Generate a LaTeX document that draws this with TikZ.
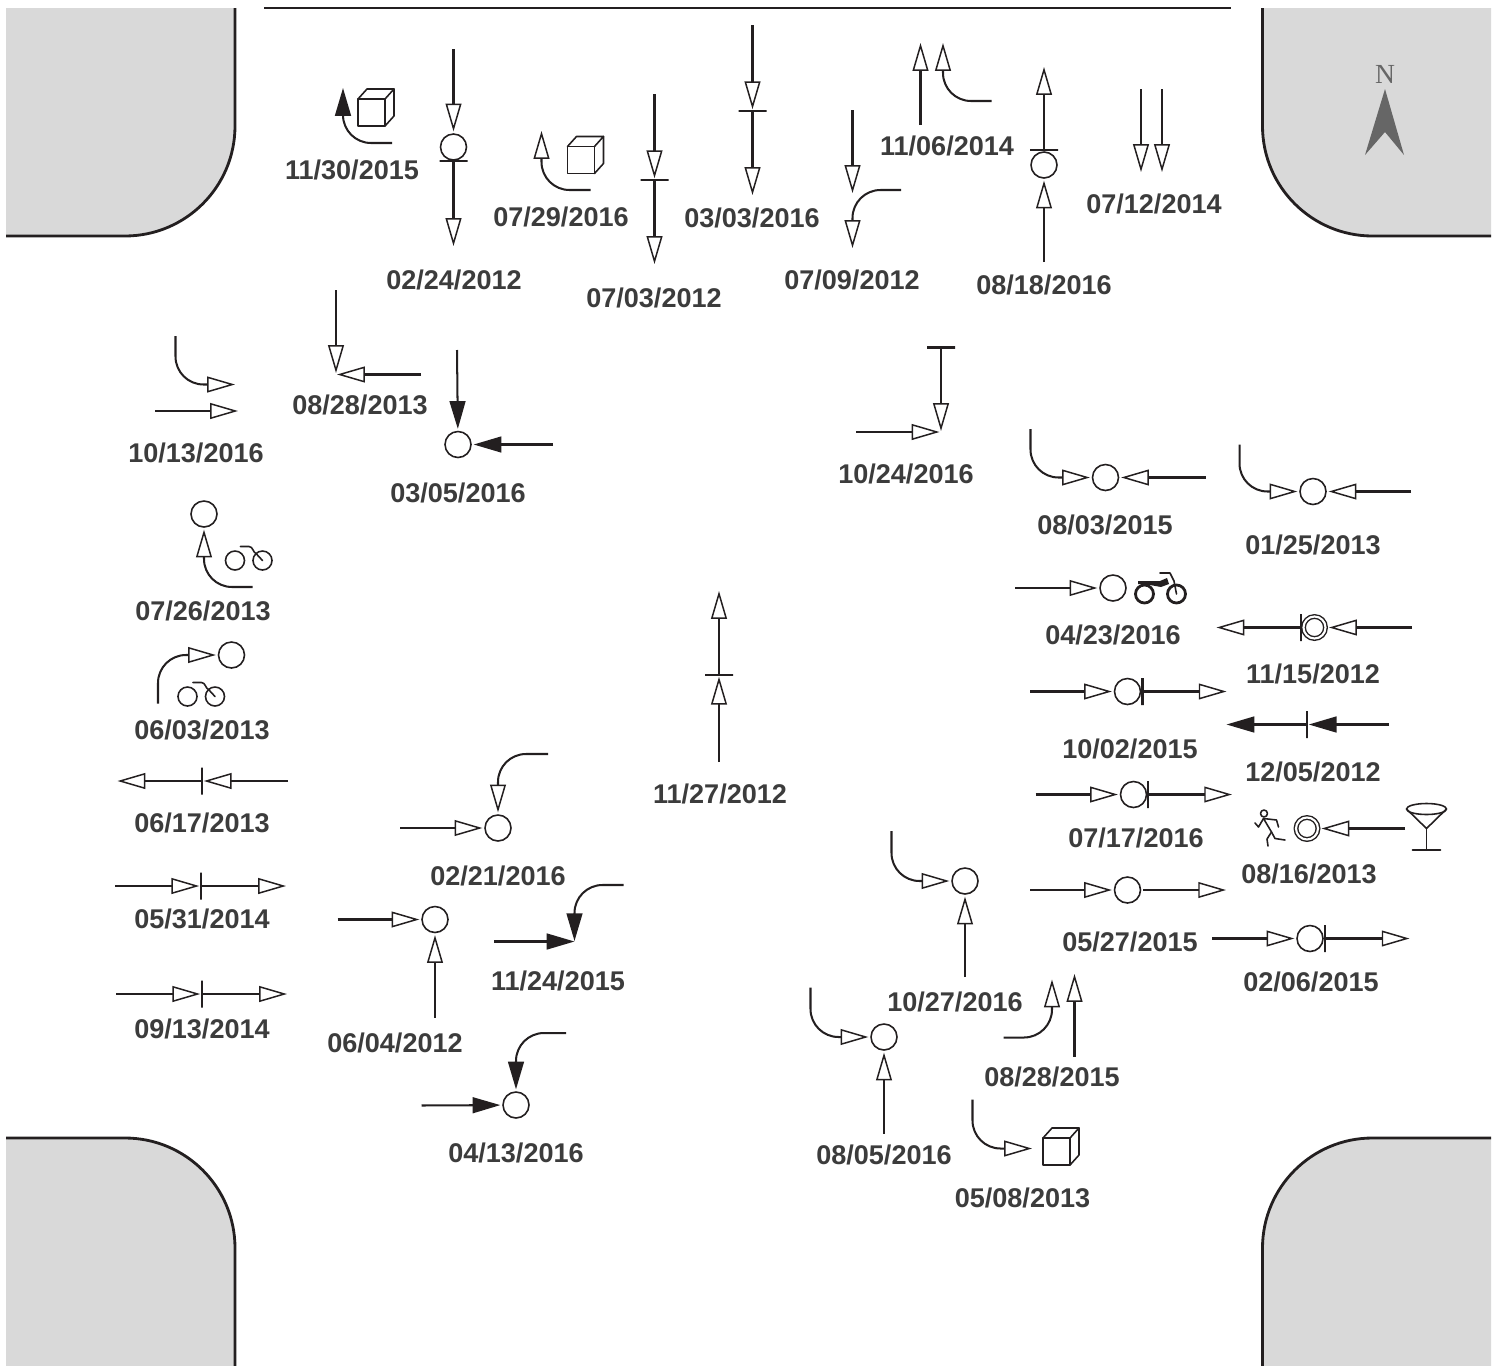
\documentclass[tikz,border=0pt]{standalone}
\usepackage{fontspec}
\setmainfont{Liberation Sans}
\newfontfamily\northfont{Liberation Serif}
\usetikzlibrary{arrows.meta}
\definecolor{blockgray}{HTML}{D9D9D9}
\definecolor{inkblack}{HTML}{231F20}
\definecolor{datumgray}{HTML}{3C3C3C}
\definecolor{northgray}{HTML}{666666}
\tikzset{
  leg/.style={line width=1.15pt,draw=inkblack},
  hollow/.style={leg,-{Triangle[open,length=15.8pt,width=9pt,line width=.85pt]}},
  solid/.style={leg,-{Triangle[length=15.8pt,width=9pt]},inkblack},
  turn/.style={rounded corners=.56cm},
  spot/.style={circle,draw=inkblack,line width=.9pt,minimum size=.52cm,inner sep=0pt,outer sep=1.5pt},
  ring/.style={spot,double=white,double distance=1.2pt,line width=.8pt,minimum size=.44cm,outer sep=2pt},
  hbar/.style={draw=inkblack,line width=1.15pt,minimum width=.56cm,minimum height=0pt,inner sep=0pt,outer sep=1pt},
  vbar/.style={draw=inkblack,line width=1.15pt,minimum height=.54cm,minimum width=0pt,inner sep=0pt,outer sep=1pt},
  datum/.style={inner sep=0pt,text=datumgray,font=\fontsize{15.4}{18}\selectfont\bfseries},
  glyph/.style={line width=.9pt,draw=inkblack,line cap=round,line join=round},
  block/.style={fill=blockgray},
  blockedge/.style={line width=1.6pt,draw=inkblack},
  crate/.pic={
    \draw[glyph] (-13.5,-13.5) rectangle (13.5,13.5);
    \draw[glyph] (-13.5,-13.5) -- (-4.5,-23.5) -- (22.5,-23.5) -- (13.5,-13.5);
    \draw[glyph] (22.5,-23.5) -- (22.5,3.5) -- (13.5,13.5);
  },
  bike/.pic={
    \draw[glyph] (0,0) circle [radius=9.5];
    \draw[glyph] (27.5,0) circle [radius=9.5];
    \draw[glyph] (5.5,-14) -- (14,-14) .. controls (18,-14) and (18,-8) .. (21,-7) -- (27.5,0);
  }
}
\begin{document}
\begin{tikzpicture}[x=0.02cm,y=-0.02cm]
  \useasboundingbox (0,0) rectangle (1502,1366);
  \fill[block] (6,8) -- (235,8) -- (235,126) arc [start angle=0,end angle=90,radius=110] -- (6,236) -- cycle;
  \draw[blockedge] (235,8) -- (235,126) arc [start angle=0,end angle=90,radius=110] -- (6,236);
  \fill[block] (1491,8) -- (1262.5,8) -- (1262.5,126) arc [start angle=180,end angle=90,radius=110] -- (1491,236) -- cycle;
  \draw[blockedge] (1262.5,8) -- (1262.5,126) arc [start angle=180,end angle=90,radius=110] -- (1491,236);
  \fill[block] (6,1366) -- (235,1366) -- (235,1248) arc [start angle=0,end angle=-90,radius=110] -- (6,1138) -- cycle;
  \draw[blockedge] (235,1366) -- (235,1248) arc [start angle=0,end angle=-90,radius=110] -- (6,1138);
  \fill[block] (1491,1366) -- (1262.5,1366) -- (1262.5,1248) arc [start angle=180,end angle=270,radius=110] -- (1491,1138) -- cycle;
  \draw[blockedge] (1262.5,1366) -- (1262.5,1248) arc [start angle=180,end angle=270,radius=110] -- (1491,1138);
  \draw[line width=.6pt,inkblack] (264,8) -- (1231,8);

  \node[inner sep=0pt,text=northgray,font=\fontsize{15.7}{18}\northfont] (north) at (1385,74) {N};
  \fill[northgray] (1385,89) -- (1404,155) -- (1385,132) -- (1365,155) -- cycle;

  % 11/30/2015
  \coordinate (s1) at (392,143); \coordinate (e1) at (343,88);
  \draw[solid,turn] (s1) -| (e1);
  \pic at (371.5,112.5) {crate};
  \node[datum] (d1) at (352,170) {11/30/2015};

  % 02/24/2012
  \node[spot] (c2) at (453.5,147) {};
  \node[hbar] (h2) at (453.5,161) {};
  \coordinate (s2) at (453.5,49); \coordinate (e2) at (453.5,246);
  \draw[hollow] (s2) -- (c2);
  \draw[hollow] (h2.center) -- (e2);
  \node[datum] (d2) at (454,280) {02/24/2012};

  % 07/29/2016
  \coordinate (s3) at (590.5,190); \coordinate (e3) at (541.5,131);
  \draw[hollow,turn] (s3) -| (e3);
  \pic at (581,160) {crate};
  \node[datum] (d3) at (561,217) {07/29/2016};

  % 07/03/2012
  \node[hbar] (h4) at (654.5,180) {};
  \coordinate (s4) at (654.5,94); \coordinate (e4) at (654.5,264);
  \draw[hollow] (s4) -- (h4);
  \draw[hollow] (h4.center) -- (e4);
  \node[datum] (d4) at (654,298) {07/03/2012};

  % 03/03/2016
  \node[hbar] (h5) at (752.5,111) {};
  \coordinate (s5) at (752.5,25); \coordinate (e5) at (752.5,195);
  \draw[hollow] (s5) -- (h5);
  \draw[hollow] (h5.center) -- (e5);
  \node[datum] (d5) at (752,218) {03/03/2016};

  % 07/09/2012
  \coordinate (s6) at (852.5,110); \coordinate (e6) at (852.5,193);
  \coordinate (s7) at (901,190); \coordinate (e7) at (852.5,248);
  \draw[hollow] (s6) -- (e6);
  \draw[hollow,turn] (s7) -| (e7);
  \node[datum] (d6) at (852,280) {07/09/2012};

  % 11/06/2014
  \coordinate (s8) at (920.5,125); \coordinate (e8) at (920.5,43);
  \coordinate (s9) at (991.5,101); \coordinate (e9) at (943,43);
  \draw[hollow] (s8) -- (e8);
  \draw[hollow,turn] (s9) -| (e9);
  \node[datum] (d8) at (947,146) {11/06/2014};

  % 08/18/2016
  \node[spot] (c10) at (1044,165) {};
  \node[hbar] (h10) at (1044,150) {};
  \coordinate (s10) at (1044,262); \coordinate (e10) at (1044,67);
  \draw[hollow] (s10) -- (c10);
  \draw[hollow] (h10.center) -- (e10);
  \node[datum] (d10) at (1044,285) {08/18/2016};

  % 07/12/2014
  \coordinate (s11) at (1141,89); \coordinate (e11) at (1141,172);
  \coordinate (s12) at (1162,89); \coordinate (e12) at (1162,172);
  \draw[hollow] (s11) -- (e11);
  \draw[hollow] (s12) -- (e12);
  \node[datum] (d11) at (1154,204) {07/12/2014};

  % 08/28/2013
  \coordinate (s13) at (336,290); \coordinate (e13) at (336,373);
  \coordinate (s14) at (421,374.5); \coordinate (e14) at (337,374.5);
  \draw[hollow] (s13) -- (e13);
  \draw[hollow] (s14) -- (e14);
  \node[datum] (d13) at (360,405) {08/28/2013};

  % 10/13/2016
  \coordinate (s15) at (175.5,336); \coordinate (e15) at (235,384.5);
  \coordinate (s16) at (155,411); \coordinate (e16) at (238,411);
  \draw[hollow,turn] (s15) |- (e15);
  \draw[hollow] (s16) -- (e16);
  \node[datum] (d15) at (196,453) {10/13/2016};

  % 03/05/2016
  \node[spot] (c17) at (458,444.5) {};
  \coordinate (s17) at (457,350); \coordinate (s18) at (553,444.5);
  \draw[solid] (s17) -- (c17);
  \draw[solid] (s18) -- (c17);
  \node[datum] (d17) at (458,493) {03/05/2016};

  % 07/26/2013
  \node[spot] (c19) at (204,514) {};
  \coordinate (s19) at (252.5,587);
  \draw[hollow,turn] (s19) -| (c19);
  \pic at (235,560.5) {bike};
  \node[datum] (d19) at (203,611) {07/26/2013};

  % 06/03/2013
  \node[spot] (c20) at (231.5,655) {};
  \coordinate (s20) at (158,703.5);
  \draw[hollow,turn] (s20) |- (c20);
  \pic at (187.5,696.5) {bike};
  \node[datum] (d20) at (202,730) {06/03/2013};

  % 06/17/2013
  \node[vbar] (v21) at (202,781) {};
  \coordinate (s21) at (288,781); \coordinate (e21) at (117.5,781);
  \draw[hollow] (s21) -- (v21);
  \draw[hollow] (v21.center) -- (e21);
  \node[datum] (d21) at (202,823) {06/17/2013};

  % 05/31/2014
  \node[vbar] (v22) at (201,886) {};
  \coordinate (s22) at (115,886); \coordinate (e22) at (286,886);
  \draw[hollow] (s22) -- (v22);
  \draw[hollow] (v22.center) -- (e22);
  \node[datum] (d22) at (202,919) {05/31/2014};

  % 09/13/2014
  \node[vbar] (v23) at (202,994) {};
  \coordinate (s23) at (116,994); \coordinate (e23) at (287,994);
  \draw[hollow] (s23) -- (v23);
  \draw[hollow] (v23.center) -- (e23);
  \node[datum] (d23) at (202,1029) {09/13/2014};

  % 02/21/2016
  \node[spot] (c24) at (498,828) {};
  \coordinate (s24) at (400,828); \coordinate (s25) at (548,754);
  \draw[hollow] (s24) -- (c24);
  \draw[hollow,turn] (s25) -| (c24);
  \node[datum] (d24) at (498,876) {02/21/2016};

  % 06/04/2012
  \node[spot] (c26) at (435,919.5) {};
  \coordinate (s26) at (337.5,919.5); \coordinate (s27) at (435,1017.5);
  \draw[hollow] (s26) -- (c26);
  \draw[hollow] (s27) -- (c26);
  \node[datum] (d26) at (395,1043) {06/04/2012};

  % 11/24/2015
  \coordinate (s28) at (494,941.5); \coordinate (e28) at (574.5,941.5);
  \coordinate (s29) at (623.5,885); \coordinate (e29) at (574.5,941);
  \draw[solid] (s28) -- (e28);
  \draw[solid,turn] (s29) -| (e29);
  \node[datum] (d28) at (558,981) {11/24/2015};

  % 04/13/2016
  \node[spot] (c30) at (516,1105) {};
  \coordinate (s30) at (421.5,1105.5); \coordinate (s31) at (566,1033);
  \draw[solid] (s30) -- (c30);
  \draw[solid,turn] (s31) -| (c30);
  \node[datum] (d30) at (516,1153) {04/13/2016};

  % 11/27/2012
  \node[hbar] (h32) at (719,675) {};
  \coordinate (s32) at (719,762); \coordinate (e32) at (719,591);
  \draw[hollow] (s32) -- (h32);
  \draw[hollow] (h32.center) -- (e32);
  \node[datum] (d32) at (720,794) {11/27/2012};

  % 10/24/2016
  \node[hbar] (h33) at (941,347.5) {};
  \coordinate (e33) at (941,431); \coordinate (s34) at (856,432); \coordinate (e34) at (939.5,432);
  \draw[hollow] (h33.center) -- (e33);
  \draw[hollow] (s34) -- (e34);
  \node[datum] (d33) at (906,474) {10/24/2016};

  % 08/03/2015
  \node[spot] (c35) at (1105.5,477.5) {};
  \coordinate (s35) at (1030.5,429); \coordinate (s36) at (1205.5,477.5);
  \draw[hollow,turn] (s35) |- (c35);
  \draw[hollow] (s36) -- (c35);
  \node[datum] (d35) at (1105,525) {08/03/2015};

  % 01/25/2013
  \node[spot] (c37) at (1313,491.5) {};
  \coordinate (s37) at (1239.5,444.5); \coordinate (s38) at (1411,491.5);
  \draw[hollow,turn] (s37) |- (c37);
  \draw[hollow] (s38) -- (c37);
  \node[datum] (d37) at (1313,545) {01/25/2013};

  % 04/23/2016
  \node[spot] (c39) at (1113,588) {};
  \coordinate (s39) at (1015,588);
  \draw[hollow] (s39) -- (c39);
  \draw[glyph,line width=1.6pt] (1144.5,594) circle [radius=9];
  \draw[glyph,line width=1.6pt] (1176.5,594) circle [radius=9];
  \fill[inkblack] (1138,581) -- (1160,581) -- (1167,578) -- (1169,584) -- (1161,587) -- (1150,585) -- (1138,584) -- cycle;
  \draw[glyph] (1160,573) -- (1170,573) -- (1174,581) -- (1176.5,594);
  \node[datum] (d39) at (1113,635) {04/23/2016};

  % 11/15/2012
  \node[ring] (c40) at (1314.5,627.5) {};
  \node[vbar] (v40) at (1301,627.5) {};
  \coordinate (s40) at (1412,627.5); \coordinate (e40) at (1216.5,627.5);
  \draw[hollow] (s40) -- (c40);
  \draw[hollow] (v40.center) -- (e40);
  \node[datum] (d40) at (1313,674) {11/15/2012};

  % 10/02/2015
  \node[spot] (c41) at (1127.5,691.5) {};
  \node[vbar] (v41) at (1142.5,691.5) {};
  \coordinate (s41) at (1030,691.5); \coordinate (e41) at (1226.5,691.5);
  \draw[hollow] (s41) -- (c41);
  \draw[hollow] (v41.center) -- (e41);
  \node[datum] (d41) at (1130,749) {10/02/2015};

  % 12/05/2012
  \node[vbar] (v42) at (1307,724.5) {};
  \coordinate (s42) at (1389,724.5); \coordinate (e42) at (1226.5,724.5);
  \draw[solid] (s42) -- (v42);
  \draw[solid] (v42.center) -- (e42);
  \node[datum] (d42) at (1313,772) {12/05/2012};

  % 07/17/2016
  \node[spot] (c43) at (1133.5,794.5) {};
  \node[vbar] (v43) at (1148,794.5) {};
  \coordinate (s43) at (1035.5,794.5); \coordinate (e43) at (1232,794.5);
  \draw[hollow] (s43) -- (c43);
  \draw[hollow] (v43.center) -- (e43);
  \node[datum] (d43) at (1136,838) {07/17/2016};

  % 08/16/2013
  \node[ring] (c44) at (1307,828.5) {};
  \coordinate (s44) at (1405,828.5);
  \draw[hollow] (s44) -- (c44);
  \draw[glyph] (1426.5,809) ellipse [x radius=20,y radius=5.5];
  \draw[glyph] (1406.5,809) -- (1426.5,828.5) -- (1446.5,809);
  \draw[glyph] (1426.5,828.5) -- (1426.5,850);
  \draw[glyph] (1412.5,850) -- (1440.5,850);
  \draw[glyph] (1264,813.5) circle [radius=3.5];
  \draw[glyph] (1255,823) -- (1258.5,827) -- (1263.5,818.5) -- (1276.5,820) -- (1278.5,827);
  \draw[glyph] (1263.5,818.5) -- (1271.5,832) -- (1275,838.5) -- (1285,840);
  \draw[glyph] (1271.5,832) -- (1267,839) -- (1268,846);
  \node[datum] (d44) at (1309,874) {08/16/2013};

  % 10/27/2016
  \node[spot] (c45) at (965,881) {};
  \coordinate (s45) at (891.5,831); \coordinate (s46) at (965,977);
  \draw[hollow,turn] (s45) |- (c45);
  \draw[hollow] (s46) -- (c45);
  \node[datum] (d45) at (955,1002) {10/27/2016};

  % 05/27/2015
  \node[spot] (c47) at (1127.5,890) {};
  \coordinate (s47) at (1030,890); \coordinate (e47) at (1226,890);
  \draw[hollow] (s47) -- (c47);
  \draw[hollow] (c47) -- (e47);
  \node[datum] (d47) at (1130,942) {05/27/2015};

  % 02/06/2015
  \node[spot] (c48) at (1310,938.5) {};
  \node[vbar] (v48) at (1325,938.5) {};
  \coordinate (s48) at (1212,938.5); \coordinate (e48) at (1409.5,938.5);
  \draw[hollow] (s48) -- (c48);
  \draw[hollow] (v48.center) -- (e48);
  \node[datum] (d48) at (1311,982) {02/06/2015};

  % 08/28/2015
  \coordinate (s49) at (1074.5,1056.5); \coordinate (e49) at (1074.5,974);
  \coordinate (s50) at (1003.5,1037.5); \coordinate (e50) at (1052,979.5);
  \draw[hollow] (s49) -- (e49);
  \draw[hollow,turn] (s50) -| (e50);
  \node[datum] (d49) at (1052,1077) {08/28/2015};

  % 08/05/2016
  \node[spot] (c51) at (884,1037) {};
  \coordinate (s51) at (810.5,987.5); \coordinate (s52) at (884,1133.5);
  \draw[hollow,turn] (s51) |- (c51);
  \draw[hollow] (s52) -- (c51);
  \node[datum] (d51) at (884,1155) {08/05/2016};

  % 05/08/2013
  \coordinate (s53) at (972.5,1099.5); \coordinate (e53) at (1032,1148.5);
  \draw[hollow,turn] (s53) |- (e53);
  \pic at (1056.5,1151.5) {crate};
  \node[datum] (d53) at (1022.5,1198) {05/08/2013};
\end{tikzpicture}
\end{document}
